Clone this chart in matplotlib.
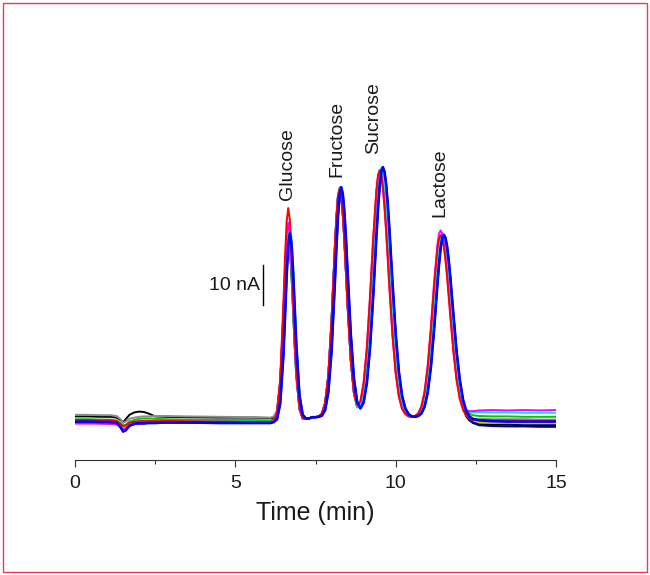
import matplotlib
matplotlib.use('Agg')
import matplotlib.pyplot as plt
from matplotlib.patches import Rectangle
from matplotlib.ticker import MultipleLocator

plt.rcParams['font.family'] = ['Liberation Sans', 'DejaVu Sans']

# ---------------- data (time in min, signal in nA) ----------------
time_start = [0.0, 0.4, 0.8, 1.1, 1.3, 1.42, 1.5, 1.58, 1.7, 1.85, 2.0, 2.15,
              2.3, 2.5, 2.8, 3.5, 4.5, 5.5, 6.1]
time_peaks = [6.2, 6.3, 6.4, 6.5, 6.55, 6.6, 6.65, 6.7, 6.75, 6.8, 6.85,
              6.9, 7.0, 7.1, 7.2, 7.3, 7.4, 7.5, 7.6, 7.7, 7.8, 7.9, 8.0, 8.1,
              8.15, 8.2, 8.25, 8.3, 8.35, 8.4, 8.45,
              8.5, 8.6, 8.7, 8.8, 8.9, 9.0, 9.1, 9.2, 9.3, 9.4,
              9.45, 9.5, 9.55, 9.6, 9.65, 9.7, 9.75,
              9.8, 9.9, 10.0, 10.1, 10.2, 10.3, 10.4, 10.5, 10.6, 10.7, 10.8,
              10.9, 11.0, 11.1, 11.2, 11.3,
              11.35, 11.4, 11.45, 11.5, 11.55, 11.6, 11.65,
              11.7, 11.8, 11.9, 12.0,
              12.1, 12.2, 12.3, 12.4]
time_end = [12.6, 13.0, 13.5, 14.0, 14.5, 15.0]

blue_start = [9.6, 9.6, 9.5, 9.5, 9.3, 8.2, 7.1, 7.4, 8.6, 9.1, 9.2, 9.2, 9.3, 9.3, 9.4, 9.4, 9.3, 9.3, 9.3]
blue_peaks = [9.5, 10.2, 14.2, 26.4, 36.0, 46.0, 53.8, 56.7, 54.2, 47.3, 38.2,
              29.0, 16.1, 11.3, 10.4, 10.4, 10.7, 10.7, 10.8, 11.1, 12.5, 17.0, 27.2, 43.7,
              52.8, 60.8, 66.2, 68.2, 66.6, 62.0, 55.3,
              47.2, 31.4, 20.2, 14.5, 12.9, 14.4, 19.2, 28.1, 41.1, 56.1,
              62.9, 68.4, 72.0, 73.2, 72.1, 69.1, 64.3,
              58.2, 44.4, 31.6, 22.0, 16.0, 12.9, 11.5, 10.9, 10.8, 11.0, 11.6, 13.3, 16.9, 23.4, 32.9, 43.8,
              48.8, 52.8, 55.4, 56.3, 55.6, 53.5, 50.2,
              46.0, 36.4, 27.1, 20.0,
              15.1, 12.3, 10.9, 10.3]
blue_end = [9.9, 9.7, 9.6, 9.6, 9.6, 9.6]

red_start = [10.0, 10.0, 9.9, 9.9, 9.7, 9.0, 8.5, 8.6, 9.3, 9.6, 9.7, 9.8, 9.8, 9.8, 9.8, 9.7, 9.6, 9.5, 9.5]
red_peaks = [9.7, 11.8, 20.3, 39.5, 50.9, 59.6, 63.0, 60.1, 52.4, 41.9, 31.6,
             22.9, 13.2, 10.5, 10.3, 10.4, 10.7, 10.7, 10.9, 11.6, 14.2, 21.1, 34.7, 52.4,
             60.3, 65.8, 67.7, 66.1, 61.6, 54.9, 46.9,
             38.8, 25.0, 16.8, 13.8, 14.6, 19.2, 27.9, 40.8, 55.6, 67.7,
             71.3, 72.5, 71.4, 68.4, 63.7, 57.7, 51.0,
             44.0, 31.3, 21.8, 15.9, 12.8, 11.5, 10.9, 10.8, 11.0, 11.6, 13.3, 16.9, 23.3, 32.8, 43.7, 52.7,
             55.3, 56.2, 55.5, 53.4, 50.1, 46.0, 41.2,
             36.3, 27.1, 19.9, 15.3,
             12.5, 11.1, 10.4, 10.0]
red_end = [10.0, 9.9, 9.9, 9.8, 9.8, 9.8]

magenta_start = [9.1, 9.1, 9.1, 9.0, 8.9, 8.3, 7.8, 7.9, 8.6, 8.9, 9.1, 9.2, 9.3, 9.4, 9.4, 9.5, 9.4, 9.4, 9.4]
magenta_peaks = [9.7, 11.6, 19.5, 37.4, 48.0, 56.1, 59.3, 56.6, 49.4, 39.7, 30.0,
                 22.0, 13.0, 10.5, 10.3, 10.4, 10.7, 10.7, 10.9, 11.6, 14.2, 21.1, 34.7, 52.4,
                 60.3, 65.8, 67.7, 66.1, 61.6, 54.9, 46.9,
                 38.8, 25.0, 16.8, 13.8, 14.6, 19.2, 27.9, 40.6, 55.2, 67.1,
                 70.8, 72.0, 70.9, 68.0, 63.3, 57.4, 50.8,
                 43.8, 31.2, 21.7, 15.9, 12.8, 11.5, 10.9, 10.8, 11.0, 11.6, 13.3, 17.0, 23.6, 33.4, 44.6, 53.8,
                 56.5, 57.4, 56.7, 54.5, 51.1, 46.9, 42.0,
                 37.0, 27.5, 20.2, 15.4,
                 13.1, 12.3, 12.2, 12.2]
magenta_end = [12.4, 12.5, 12.4, 12.5, 12.4, 12.5]

cyan_start = [9.7, 9.7, 9.6, 9.6, 9.4, 8.4, 7.4, 7.6, 8.6, 9.3, 9.6, 9.7, 9.7, 9.8, 9.8, 9.7, 9.6, 9.6, 9.5]
cyan_peaks = [9.5, 10.2, 14.3, 27.0, 36.9, 47.2, 55.3, 58.3, 55.7, 48.6, 39.1,
              29.7, 16.3, 11.3, 10.4, 10.4, 10.7, 10.7, 10.9, 11.6, 14.2, 21.2, 34.9, 52.8,
              60.7, 66.3, 68.2, 66.6, 62.0, 55.3, 47.2,
              39.0, 25.1, 16.7, 13.3, 13.3, 16.3, 23.0, 34.1, 48.5, 62.7,
              68.2, 71.8, 73.0, 71.9, 68.9, 64.1, 58.0,
              51.3, 37.6, 26.2, 18.5, 14.1, 12.0, 11.1, 10.8, 10.8, 11.2, 12.3, 14.8, 19.8, 28.0, 38.6, 49.1,
              53.2, 55.8, 56.7, 56.0, 53.8, 50.5, 46.4,
              41.6, 31.8, 23.4, 17.4,
              14.0, 12.6, 12.2, 11.9]
cyan_end = [12.0, 11.9, 11.9, 11.8, 11.8, 11.8]

gray_start = [11.3, 11.3, 11.2, 11.2, 11.0, 10.2, 9.3, 9.6, 10.3, 10.6, 10.8, 10.9, 10.9, 11.0, 11.0, 10.9, 10.8, 10.7, 10.6]
gray_peaks = [10.9, 12.4, 19.6, 36.0, 45.7, 53.1, 56.0, 53.5, 46.8, 37.7, 28.7,
              21.2, 12.7, 10.4, 10.3, 10.4, 10.7, 10.7, 10.9, 11.6, 14.2, 21.1, 34.7, 52.4,
              60.3, 65.8, 67.7, 66.1, 61.6, 54.9, 46.9,
              38.8, 25.0, 16.6, 13.2, 13.3, 16.3, 22.8, 33.8, 48.0, 62.0,
              67.5, 71.0, 72.2, 71.1, 68.1, 63.4, 57.4,
              50.8, 37.3, 26.0, 18.4, 14.1, 12.0, 11.1, 10.8, 10.8, 11.2, 12.2, 14.8, 19.7, 27.8, 38.3, 48.7,
              52.7, 55.3, 56.2, 55.5, 53.3, 50.1, 46.0,
              41.3, 31.6, 23.2, 17.3,
              13.6, 11.7, 10.8, 10.3]
gray_end = [10.3, 10.2, 10.2, 10.2, 10.1, 10.1]

black_start = [10.9, 10.9, 10.8, 10.8, 10.6, 10.0, 9.4, 10.2, 11.3, 11.9, 12.1, 12.0, 11.6, 10.9, 10.8, 10.7, 10.6, 10.6, 10.5]
black_peaks = [10.6, 12.2, 19.4, 35.9] + gray_peaks[4:75] + [13.2, 10.9, 9.9, 9.4]
black_end = [8.9, 8.8, 8.8, 8.7, 8.7, 8.7]

green_start = [10.2, 10.2, 10.1, 10.1, 9.9, 9.2, 8.6, 8.8, 9.6, 10.0, 10.3, 10.4, 10.4, 10.3, 10.2, 10.1, 10.0, 10.0, 9.9]
green_peaks = [10.3, 12.0] + gray_peaks[2:75] + [13.9, 12.4, 11.6, 11.2]
green_end = [11.0, 10.9, 10.9, 10.8, 10.8, 10.8]

navy_start = [9.3, 9.3, 9.2, 9.2, 9.0, 8.3, 7.5, 7.6, 8.5, 9.0, 9.1, 9.1, 9.2, 9.2, 9.3, 9.3, 9.2, 9.2, 9.2]
navy_peaks = blue_peaks[0:75] + [14.9, 11.8, 10.1, 9.3]
navy_end = [8.7, 8.5, 8.4, 8.4, 8.3, 8.3]

yellow_start = [9.8, 9.8, 9.7, 9.7, 9.5, 8.8, 8.2, 8.4, 9.2, 9.6, 9.8, 9.8, 9.8, 9.7, 9.6, 9.6, 9.5, 9.5, 9.5]
yellow_peaks = [9.7] + blue_peaks[1:75] + [15.0, 12.0, 10.5, 9.8]
yellow_end = [9.4, 9.3, 9.2, 9.2, 9.2, 9.2]

peak_names = ['Glucose', 'Fructose', 'Sucrose', 'Lactose']
label_x = [6.63, 8.18, 9.30, 11.38]
label_y = [65.0, 70.7, 76.5, 60.8]
xticks = [0, 5, 10, 15]

traces = [
    ('#d8d800', yellow_start, yellow_peaks, yellow_end, 1.4),
    ('#00c800', green_start, green_peaks, green_end, 1.4),
    ('#000000', black_start, black_peaks, black_end, 1.4),
    ('#8c8c8c', gray_start, gray_peaks, gray_end, 1.4),
    ('#00008b', navy_start, navy_peaks, navy_end, 1.5),
    ('#00e5ee', cyan_start, cyan_peaks, cyan_end, 1.4),
    ('#ff00ff', magenta_start, magenta_peaks, magenta_end, 1.4),
    ('#ff0000', red_start, red_peaks, red_end, 1.4),
    ('#0000ff', blue_start, blue_peaks, blue_end, 1.9),
]

time_all = time_start + time_peaks + time_end

# ---------------- figure ----------------
fig = plt.figure(figsize=(6.5, 5.75), dpi=100)
ax = fig.add_axes([75 / 650, 115 / 575, 481 / 650, 420 / 575])

for color, s, p, e, lw in traces:
    ax.plot(time_all, s + p + e, color=color, lw=lw, solid_joinstyle='round')

ax.set_xlim(0, 15)
ax.set_ylim(0, 105)

for name, x, y in zip(peak_names, label_x, label_y):
    ax.text(x, y, name, rotation=90, ha='center', va='bottom', fontsize=14,
            color='#1a1a1a')

# scale bar 10 nA
ax.plot([5.85, 5.85], [38.75, 48.75], color='black', lw=1.0)
ax.text(5.77, 43.75, '10 nA', ha='right', va='center', fontsize=14, color='#1a1a1a')

for sp in ['left', 'right', 'top']:
    ax.spines[sp].set_visible(False)
ax.spines['bottom'].set_color('#333333')
ax.spines['bottom'].set_linewidth(0.8)
ax.set_yticks([])
ax.set_xticks(xticks)
ax.xaxis.set_minor_locator(MultipleLocator(2.5))
ax.tick_params(axis='x', which='major', direction='out', length=5, width=0.8,
               color='#333333', labelsize=14, labelcolor='#1a1a1a', pad=6)
ax.tick_params(axis='x', which='minor', direction='out', length=3, width=0.8,
               color='#333333')
ax.set_xlabel('Time (min)', fontsize=18, color='#1a1a1a', labelpad=6)

fig.add_artist(Rectangle((3 / 650, 3 / 575), 644 / 650, 569 / 575,
                         transform=fig.transFigure, fill=False,
                         edgecolor='#e63c55', lw=1.0))

fig.savefig('out.png', dpi=100)
